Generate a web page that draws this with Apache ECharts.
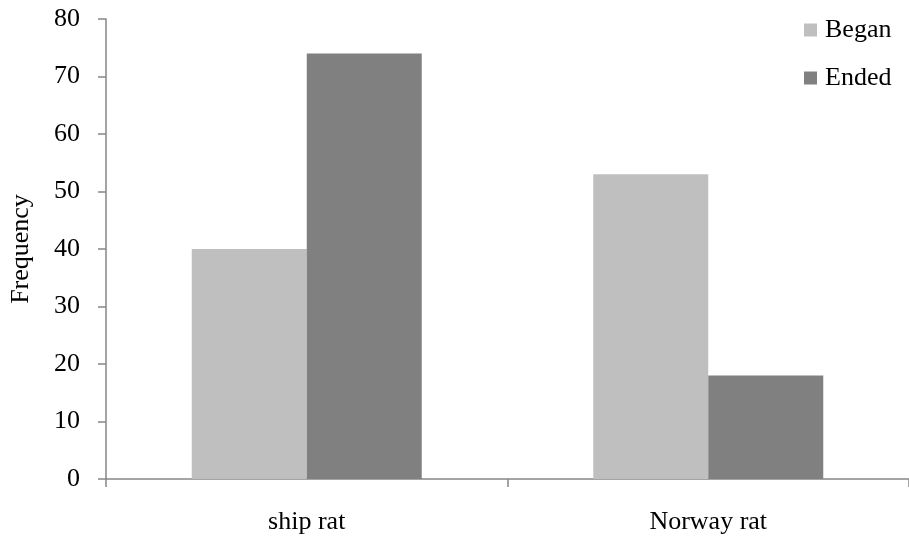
<!DOCTYPE html>
<html>
<head>
<meta charset="utf-8">
<script src="https://cdn.jsdelivr.net/npm/echarts@6/dist/echarts.min.js"></script>
<style>
html,body{margin:0;padding:0;background:#fff;}
#c{width:909px;height:537px;}
</style>
</head>
<body>
<div id="c"></div>
<script>
var categories = ['ship rat', 'Norway rat'];
var began = [40, 53];
var ended = [74, 18];
var seriesNames = ['Began', 'Ended'];
var yTicks = { min: 0, max: 80, interval: 10 };

var FONT = '"Liberation Serif", "Times New Roman", serif';
var axisGray = '#868686';
var chart = echarts.init(document.getElementById('c'), null, { renderer: 'canvas' });
chart.setOption({
  animation: false,
  backgroundColor: '#ffffff',
  textStyle: { fontFamily: FONT, color: '#000' },
  grid: { left: 106, top: 19, bottom: 58, right: -3, containLabel: false },
  legend: {
    orient: 'vertical',
    left: 804,
    top: 17,
    padding: 0,
    icon: 'rect',
    itemWidth: 13,
    itemHeight: 13,
    itemGap: 22,
    data: seriesNames,
    textStyle: { fontFamily: FONT, fontSize: 26, color: '#000', lineHeight: 26, padding: [0, 0, 0, 3] }
  },
  xAxis: {
    type: 'category',
    data: categories,
    axisLine: { show: true, lineStyle: { color: axisGray, width: 1.5 } },
    axisTick: { show: true, length: 8, lineStyle: { color: axisGray, width: 1.5 } },
    axisLabel: { fontFamily: FONT, fontSize: 26, color: '#000', margin: 30 },
    splitLine: { show: false }
  },
  yAxis: {
    type: 'value',
    min: yTicks.min,
    max: yTicks.max,
    interval: yTicks.interval,
    name: 'Frequency',
    nameLocation: 'middle',
    nameGap: 72,
    nameRotate: 90,
    nameTextStyle: { fontFamily: FONT, fontSize: 26, color: '#000' },
    axisLine: { show: true, lineStyle: { color: axisGray, width: 1.5 } },
    axisTick: { show: true, length: 8, lineStyle: { color: axisGray, width: 1.5 } },
    axisLabel: { fontFamily: FONT, fontSize: 26, color: '#000', margin: 26 },
    splitLine: { show: false }
  },
  series: [
    { name: seriesNames[0], type: 'bar', data: began, barWidth: 115, barGap: '0%', itemStyle: { color: '#BFBFBF' } },
    { name: seriesNames[1], type: 'bar', data: ended, barWidth: 115, barGap: '0%', itemStyle: { color: '#808080' } }
  ]
});
</script>
</body>
</html>
